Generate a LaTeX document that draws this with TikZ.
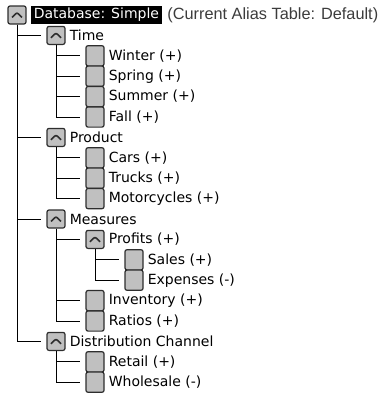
\documentclass[tikz,border=0pt]{standalone}
\usepackage{fontspec}
\setmainfont{DejaVu Sans}
\newfontfamily\aliasfont{Liberation Sans}
\usepackage{tikz}
\usetikzlibrary{positioning}
\definecolor{BoxGray}{HTML}{C0C0C0}
\definecolor{BoxEdge}{HTML}{2E2E2E}
\definecolor{AliasGray}{HTML}{3C3C3C}

\begin{document}
\begin{tikzpicture}[x=1pt,y=-1pt,font=\fontsize{14pt}{17pt}\selectfont,node distance=4pt,every node/.style={inner sep=0pt},
  member/.style={draw=BoxEdge,fill=BoxGray,line width=1.2pt,rounded corners=2pt,minimum width=18pt,minimum height=20.2pt},
  openbox/.style={member,minimum height=18pt,path picture={\draw[line width=1.6pt]([xshift=-5pt,yshift=-2.4pt]path picture bounding box.center)--++(5pt,5pt)--++(5pt,-5pt);}},
  tree/.style={line width=1pt}]
  \useasboundingbox (0,0) rectangle (381,394);
  % root
  \node[openbox] (db) at (17,15) {};
  \node[fill=black,text=white,inner xsep=3pt,minimum height=18pt,right=of db] (dbl) {Database: Simple};
  \node[font=\aliasfont\fontsize{16.3pt}{18pt}\selectfont,text=AliasGray,right=5pt of dbl] (alias) {(Current Alias Table: Default)};
  % dimensions
  \node[openbox] (time) at (56,35.4) {};      \node[right=of time] (timel) {Time};
  \node[member] (winter) at (95,55.8) {};     \node[right=of winter] (winterl) {Winter (+)};
  \node[member] (spring) at (95,76.2) {};     \node[right=of spring] (springl) {Spring (+)};
  \node[member] (summer) at (95,96.6) {};     \node[right=of summer] (summerl) {Summer (+)};
  \node[member] (fall) at (95,117) {};        \node[right=of fall] (falll) {Fall (+)};
  \node[openbox] (product) at (56,137.4) {};  \node[right=of product] (productl) {Product};
  \node[member] (cars) at (95,157.8) {};      \node[right=of cars] (carsl) {Cars (+)};
  \node[member] (trucks) at (95,178.2) {};    \node[right=of trucks] (trucksl) {Trucks (+)};
  \node[member] (moto) at (95,198.6) {};      \node[right=of moto] (motol) {Motorcycles (+)};
  \node[openbox] (measures) at (56,219) {};   \node[right=of measures] (measuresl) {Measures};
  \node[openbox] (profits) at (95,239.4) {};  \node[right=of profits] (profitsl) {Profits (+)};
  \node[member] (sales) at (134,259.8) {};    \node[right=of sales] (salesl) {Sales (+)};
  \node[member] (expenses) at (134,280.2) {}; \node[right=of expenses] (expensesl) {Expenses (-)};
  \node[member] (inventory) at (95,300.6) {}; \node[right=of inventory] (inventoryl) {Inventory (+)};
  \node[member] (ratios) at (95,321) {};      \node[right=of ratios] (ratiosl) {Ratios (+)};
  \node[openbox] (channel) at (56,341.4) {};  \node[right=of channel] (channell) {Distribution Channel};
  \node[member] (retail) at (95,361.8) {};    \node[right=of retail] (retaill) {Retail (+)};
  \node[member] (wholesale) at (95,382.2) {}; \node[right=of wholesale] (wholesalel) {Wholesale (-)};
  % tree lines
  \draw[tree](db.south)|-([xshift=-5pt]time.west);\draw[tree](db.south)|-([xshift=-5pt]product.west);
  \draw[tree](db.south)|-([xshift=-5pt]measures.west);\draw[tree](db.south)|-([xshift=-5pt]channel.west);
  \draw[tree](time.south)|-([xshift=-5pt]winter.west);\draw[tree](time.south)|-([xshift=-5pt]spring.west);
  \draw[tree](time.south)|-([xshift=-5pt]summer.west);\draw[tree](time.south)|-([xshift=-5pt]fall.west);
  \draw[tree](product.south)|-([xshift=-5pt]cars.west);\draw[tree](product.south)|-([xshift=-5pt]trucks.west);
  \draw[tree](product.south)|-([xshift=-5pt]moto.west);
  \draw[tree](measures.south)|-([xshift=-5pt]profits.west);\draw[tree](measures.south)|-([xshift=-5pt]inventory.west);
  \draw[tree](measures.south)|-([xshift=-5pt]ratios.west);
  \draw[tree](profits.south)|-([xshift=-5pt]sales.west);\draw[tree](profits.south)|-([xshift=-5pt]expenses.west);
  \draw[tree](channel.south)|-([xshift=-5pt]retail.west);\draw[tree](channel.south)|-([xshift=-5pt]wholesale.west);
\end{tikzpicture}
\end{document}
